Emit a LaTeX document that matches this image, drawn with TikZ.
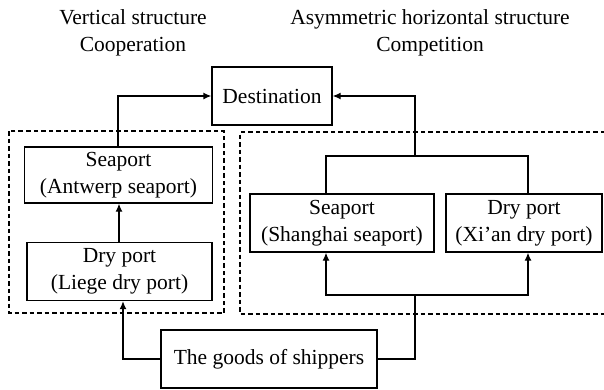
\documentclass[tikz,border=0pt]{standalone}
\usepackage{fontspec}
\setmainfont{Liberation Serif}
\usetikzlibrary{arrows.meta}
\begin{document}
\begin{tikzpicture}[x=1pt,y=-1pt,
  every node/.style={font=\fontsize{21.5}{27}\selectfont},
  box/.style={draw,line width=1.3pt,align=center,inner sep=0pt},
  link/.style={line width=1.3pt},
  arr/.style={link,-{Latex[length=8pt,width=7pt]}},
  group/.style={draw,line width=1.3pt,dash pattern=on 4.5pt off 3pt},
  heading/.style={align=center,inner sep=0pt}]
\useasboundingbox (0,0) rectangle (604,389);

% headings
\node[heading] (h1) at (133,33) {Vertical structure\\Cooperation};
\node[heading] (h2) at (430,33) {Asymmetric horizontal structure\\Competition};

% dashed groups
\draw[group] (9,131) rectangle (224,313);
\draw[group] (620,132) -- (240,132) -- (240,314) -- (620,314);

% boxes
\node[box,minimum width=120pt,minimum height=58pt] (dest) at (272,96) {Destination};
\node[box,minimum width=188pt,minimum height=56pt] (sea1) at (118.5,175) {Seaport\\(Antwerp seaport)};
\node[box,minimum width=185pt,minimum height=58pt] (dry1) at (119.5,271.5) {Dry port\\(Liege dry port)};
\node[box,minimum width=184pt,minimum height=58pt] (sea2) at (342,223) {Seaport\\(Shanghai seaport)};
\node[box,minimum width=156pt,minimum height=58pt] (dry2) at (524,223) {Dry port\\(Xi'an dry port)};
\node[box,minimum width=216pt,minimum height=58pt] (goods) at (269,359) {The goods of shippers};

% junction points
\coordinate (jt) at (415,156);
\coordinate (jb) at (415,295);

% vertical structure
\draw[arr] ([xshift=-0.5pt]sea1.north) |- (dest.west);
\draw[arr] ([xshift=-0.5pt]dry1.north) -- ([xshift=-0.5pt]dry1.north |- sea1.south);
\draw[arr] (goods.west) -| ([xshift=3.5pt]dry1.south);

% horizontal structure
\draw[arr] (jt) |- (dest.east);
\draw[link] ([xshift=-16pt]sea2.north) |- (jt) -| ([xshift=4pt]dry2.north);
\draw[arr] (jb) -| ([xshift=-16pt]sea2.south);
\draw[arr] (jb) -| ([xshift=4pt]dry2.south);
\draw[link] (goods.east) -| (jb);
\end{tikzpicture}
\end{document}
